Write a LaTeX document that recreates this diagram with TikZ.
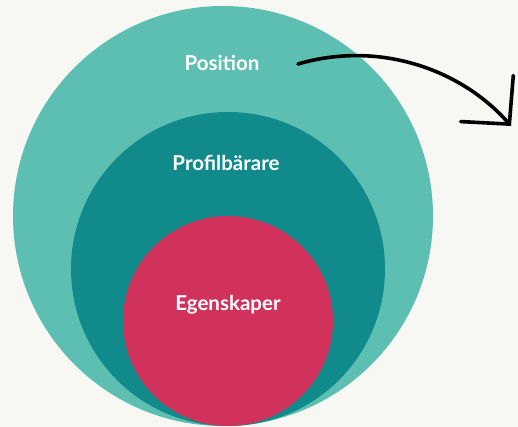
\documentclass[tikz,border=0pt]{standalone}
\usepackage{fontspec}
\setsansfont{Lato}
\usepackage{xcolor}
\usetikzlibrary{arrows.meta,positioning}

\definecolor{bgpaper}{HTML}{F7F8F3}
\definecolor{lightteal}{HTML}{5DBFB1}
\definecolor{darkteal}{HTML}{108A8B}
\definecolor{crimson}{HTML}{D0325B}

\begin{document}
\begin{tikzpicture}[
    x=1pt, y=-1pt,
    ring/.style={circle, draw=none, inner sep=0pt},
    label/.style={text=white, font=\sffamily\bfseries\fontsize{20.5}{22}\selectfont}
]
    \fill[bgpaper] (0,0) rectangle (518,427);
    \useasboundingbox (0,0) rectangle (518,427);

    \node[ring, fill=lightteal, minimum size=420pt] (position) at (223,216) {};
    \node[ring, fill=darkteal, minimum size=314pt] (profil) at (228,269) {};
    \node[ring, fill=crimson, minimum size=210pt] (egen) at (228,321) {};

    \node[label] (postext) at (222,63) {Position};
    \node[label] (proftext) at (226,163) {Profilbärare};
    \node[label] (egentext) at (228,305) {Egenskaper};

    \coordinate (arrstart) at (298,64);
    \coordinate (arrend) at (511,126);
    \draw[line width=3.6pt, line cap=round, -{Straight Barb[length=34pt, width=70pt, line cap=round]}]
        (arrstart) .. controls (380,40) and (462,70) .. (arrend);
\end{tikzpicture}
\end{document}
